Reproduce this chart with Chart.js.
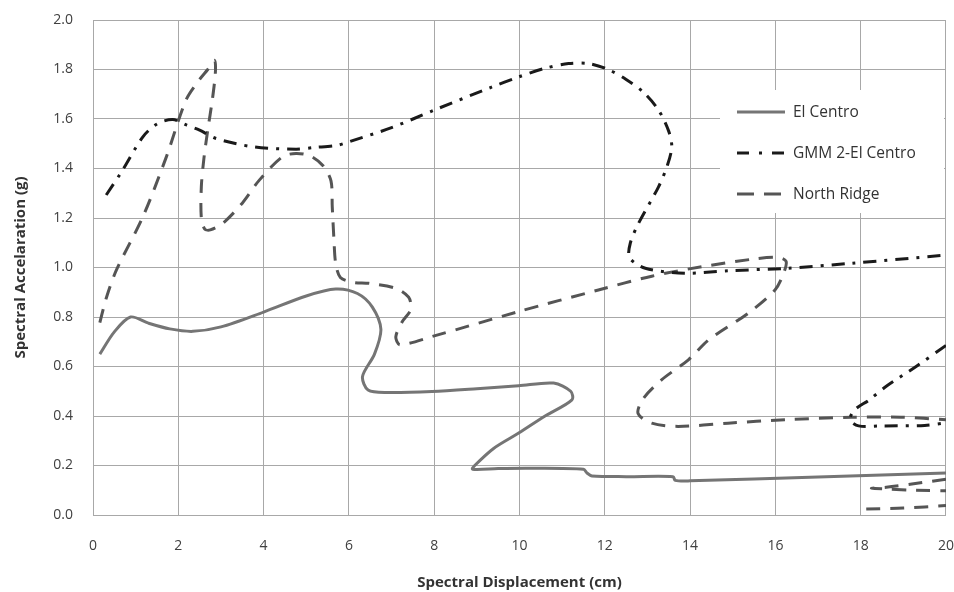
<!DOCTYPE html>
<html>
<head>
<meta charset="utf-8">
<script src="https://cdn.jsdelivr.net/npm/chart.js@4"></script>
<style>
  html, body { margin: 0; padding: 0; background: #fff; }
  #wrap { width: 954px; height: 592px; }
</style>
</head>
<body>
<div id="wrap"><canvas id="spectra"></canvas></div>
<script>
// values, null = break in the line
var elCentroX = [0.16, 0.5, 0.88, 1.3, 1.8, 2.34, 3.0, 4.0, 5.0, 5.69, 6.2, 6.55, 6.75, 6.6, 6.32, 6.45, 6.9, 7.95, 9.0, 9.98, 10.8, 11.2, 11.23, 10.6, 9.98, 9.4, 8.95, 8.9, 9.5, 10.29, 11.5, 11.58, 11.7, 12.5, 13.6, 13.65, 14.0, 17.0, 20.0];
var elCentroY = [0.65, 0.74, 0.80, 0.775, 0.752, 0.742, 0.76, 0.82, 0.885, 0.913, 0.895, 0.84, 0.75, 0.65, 0.56, 0.505, 0.495, 0.499, 0.51, 0.522, 0.533, 0.50, 0.465, 0.40, 0.331, 0.27, 0.20, 0.185, 0.188, 0.189, 0.185, 0.17, 0.158, 0.155, 0.155, 0.14, 0.138, 0.154, 0.17];

var gmmX = [0.31, 0.66, 1.17, 1.5, 1.87, 2.2, 2.5, 2.89, 3.78, 4.76, 5.2, 5.73, 6.0, 7.0, 8.0, 9.32, 9.98, 10.6, 11.15, 11.62, 12.08, 12.5, 12.9, 13.26, 13.5, 13.57, 13.47, 13.26, 12.79, 12.6, 12.58, 12.95, 13.88, 14.89, 16.3, 17.78, 20.0,
            null, 20.0, 19.3, 18.6, 18.2, 17.86, 17.75, 17.95, 18.5, 19.5, 20.0];
var gmmY = [1.293, 1.384, 1.528, 1.58, 1.598, 1.575, 1.555, 1.521, 1.487, 1.478, 1.485, 1.494, 1.508, 1.565, 1.636, 1.727, 1.77, 1.805, 1.824, 1.824, 1.80, 1.76, 1.709, 1.636, 1.55, 1.487, 1.414, 1.326, 1.178, 1.10, 1.04, 0.997, 0.977, 0.987, 0.997, 1.017, 1.05,
            null, 0.685, 0.60, 0.52, 0.465, 0.425, 0.385, 0.36, 0.36, 0.362, 0.372];

var northX = [0.16, 0.31, 0.55, 1.17, 1.72, 2.18, 2.5, 2.69, 2.85, 2.87, 2.8, 2.69, 2.6, 2.54, 2.54, 2.62, 2.75, 3.04, 3.5, 3.9, 4.44, 4.76, 5.1, 5.4, 5.58, 5.61, 5.65, 5.69, 5.8, 6.1, 6.47, 7.1, 7.4, 7.45, 7.25, 7.1, 7.2, 7.95, 9.98, 11.85, 13.1, 14.27, 15.44, 16.06, 16.25, 16.2, 15.99, 15.36, 14.43, 13.96, 13.33, 12.9, 12.78, 13.1, 13.72, 14.89, 16.22, 17.78, 18.95, 20.0,
              null, 20.0, 19.2, 18.6, 18.25, 18.6, 19.3, 20.0,
              null, 18.13, 19.0, 20.0];
var northY = [0.777, 0.876, 0.99, 1.205, 1.447, 1.676, 1.76, 1.80, 1.837, 1.79, 1.68, 1.555, 1.44, 1.326, 1.20, 1.155, 1.152, 1.178, 1.26, 1.353, 1.447, 1.461, 1.45, 1.41, 1.35, 1.245, 1.111, 1.017, 0.96, 0.94, 0.936, 0.916, 0.88, 0.83, 0.781, 0.72, 0.688, 0.721, 0.822, 0.909, 0.965, 1.003, 1.033, 1.041, 1.025, 0.98, 0.909, 0.815, 0.707, 0.627, 0.546, 0.47, 0.41, 0.371, 0.358, 0.371, 0.385, 0.395, 0.395, 0.385,
              null, 0.145, 0.125, 0.112, 0.108, 0.105, 0.10, 0.098,
              null, 0.024, 0.028, 0.038];

var seriesNames = ['El Centro', 'GMM 2-El Centro', 'North Ridge'];

function pairs(xs, ys) {
    return xs.map(function(x, i) { return {x: x, y: ys[i]}; });
}

// legend drawn inside the plot like the excel one
var insideLegend = {
    id: 'insideLegend',
    beforeDatasetsDraw: function(chart) {
        var ctx = chart.ctx;
        var area = chart.chartArea;
        var left = area.right - 226, top = area.top + 70;
        ctx.save();
        ctx.fillStyle = '#ffffff';
        ctx.fillRect(left, top, 224, 123);
        chart.data.datasets.forEach(function(ds, i) {
            var y = top + 22 + i * 41;
            ctx.beginPath();
            ctx.strokeStyle = ds.borderColor;
            ctx.lineWidth = ds.borderWidth;
            ctx.setLineDash(ds.legendDash || []);
            ctx.moveTo(left + 17, y);
            ctx.lineTo(left + 65, y);
            ctx.stroke();
            ctx.setLineDash([]);
            ctx.fillStyle = '#333';
            ctx.font = '15.5px "Open Sans", sans-serif';
            ctx.textBaseline = 'middle';
            ctx.fillText(ds.label, left + 73, y + 1);
        });
        ctx.restore();
    }
};

var tickFont = { family: '"Open Sans", sans-serif', size: 14 };
var titleFont = { family: '"Open Sans", sans-serif', size: 15, weight: 'bold' };
var hiddenTicks = 'rgba(0,0,0,0)';

var ctx = document.getElementById('spectra').getContext('2d');
var chart = new Chart(ctx, {
    type: 'scatter',
    data: {
        datasets: [{
            label: seriesNames[0],
            data: pairs(elCentroX, elCentroY),
            showLine: true,
            borderColor: '#757575',
            borderWidth: 3,
            tension: 0.3,
            pointRadius: 0,
            legendDash: []
        }, {
            label: seriesNames[1],
            data: pairs(gmmX, gmmY),
            showLine: true,
            borderColor: '#1a1a1a',
            borderWidth: 3,
            borderDash: [13, 8, 3, 8],
            tension: 0.3,
            pointRadius: 0,
            legendDash: [12, 10, 3, 10]
        }, {
            label: seriesNames[2],
            data: pairs(northX, northY),
            showLine: true,
            borderColor: '#555555',
            borderWidth: 3,
            borderDash: [14, 10],
            tension: 0.3,
            pointRadius: 0,
            legendDash: [17, 10]
        }]
    },
    options: {
        responsive: true,
        maintainAspectRatio: false,
        animation: false,
        layout: { padding: { left: 12, right: 0, top: 20, bottom: 0 } },
        plugins: {
            legend: { display: false },
            tooltip: { enabled: false }
        },
        scales: {
            x: {
                type: 'linear',
                min: 0,
                max: 20,
                ticks: { stepSize: 2, padding: 0, color: '#404040', font: tickFont },
                grid: { color: '#a8a8a8', drawTicks: true, tickLength: 23, tickColor: hiddenTicks },
                border: { color: '#a8a8a8' },
                title: { display: true, text: 'Spectral Displacement (cm)', color: '#333', padding: { top: 0, bottom: 0 }, font: titleFont },
                afterFit: function(scale) { scale.height = 77; }
            },
            y: {
                min: 0,
                max: 2,
                ticks: { stepSize: 0.2, padding: 0, color: '#404040', font: tickFont,
                         callback: function(v) { return v.toFixed(1); } },
                grid: { color: '#a8a8a8', drawTicks: true, tickLength: 20, tickColor: hiddenTicks },
                border: { color: '#a8a8a8' },
                title: { display: true, text: 'Spectral Accelaration (g)', color: '#333', padding: 0, font: titleFont },
                afterFit: function(scale) { scale.width = 81; }
            }
        }
    },
    plugins: [insideLegend]
});
</script>
</body>
</html>
